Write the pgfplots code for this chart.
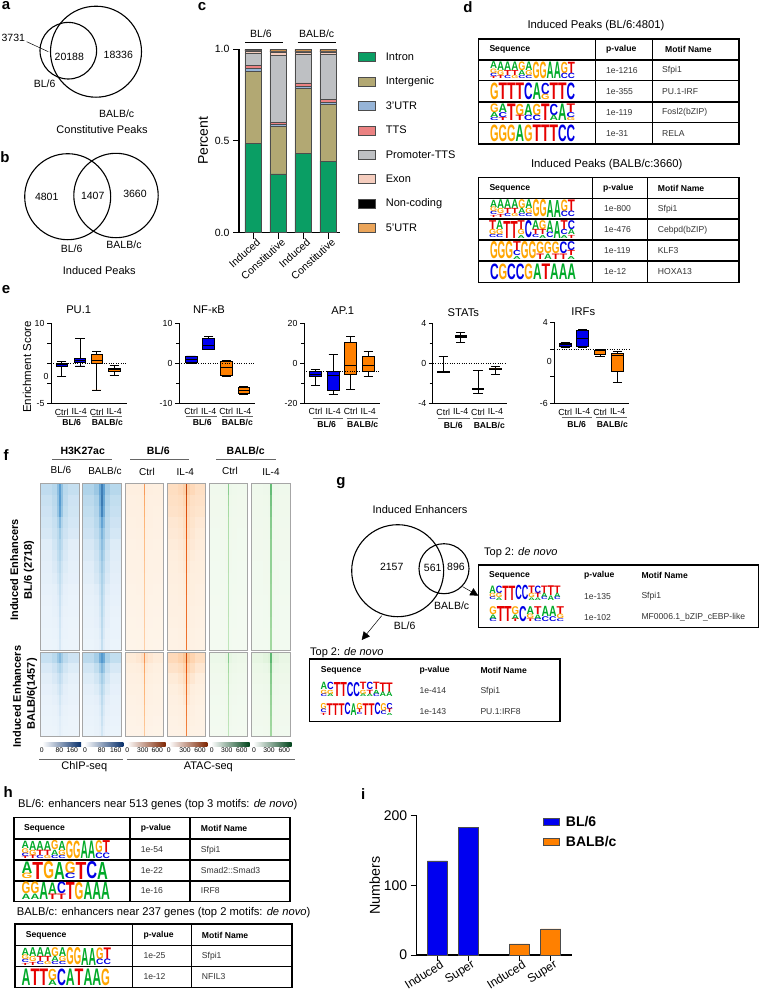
\documentclass[border=0pt]{standalone}
\usepackage{fontspec}
\setmainfont{Liberation Sans}
\usepackage{pgfplots}
\usepackage{pgfplotstable}
\usepgfplotslibrary{statistics}
\pgfplotsset{compat=1.18}
\usetikzlibrary{arrows.meta}

\definecolor{cIntron}{RGB}{10,158,100}
\definecolor{cInter}{RGB}{178,168,115}
\definecolor{cUTR3}{RGB}{150,180,215}
\definecolor{cTTS}{RGB}{235,130,130}
\definecolor{cProm}{RGB}{190,192,195}
\definecolor{cExon}{RGB}{245,205,190}
\definecolor{cUTR5}{RGB}{235,165,90}
\definecolor{bl}{RGB}{0,0,240}
\definecolor{ba}{RGB}{255,128,0}
\definecolor{logoA}{RGB}{0,170,40}
\definecolor{logoC}{RGB}{0,0,230}
\definecolor{logoG}{RGB}{255,165,0}
\definecolor{logoT}{RGB}{230,0,0}

\newcommand{\ft}[1]{\fontsize{#1}{#1}\selectfont}

% sequence logo: x left, x right, y top, y bottom, stacks (top letter first)
\ExplSyntaxOn
\fp_new:N \l_lg_acc_fp
\fp_new:N \l_lg_f_fp
\fp_new:N \l_lg_w_fp
\int_new:N \l_lg_i_int
\tl_new:N \l_lg_fr_tl
\tl_new:N \l_lg_x_tl
\tl_new:N \l_lg_y_tl
\tl_new:N \l_lg_c_tl
\str_new:N \l_lg_s_str
\clist_new:N \l_lg_list_clist
\NewDocumentCommand{\logo}{mmmmm}{
  \int_zero:N \l_lg_i_int
  \clist_set:Nx \l_lg_list_clist {#5}
  \fp_set:Nn \l_lg_w_fp { (#2-#1)/\clist_count:N \l_lg_list_clist }
  \clist_map_inline:Nn \l_lg_list_clist {
    \str_set:Nn \l_lg_s_str {##1}
    \tl_set:Nx \l_lg_fr_tl { \int_case:nn {\str_count:N \l_lg_s_str}
      { {1}{1} {2}{.68,.32} {3}{.52,.3,.18} {4}{.42,.27,.19,.12} } }
    \fp_zero:N \l_lg_acc_fp
    \int_step_inline:nn {\str_count:N \l_lg_s_str} {
      \fp_set:Nn \l_lg_f_fp {\clist_item:Nn \l_lg_fr_tl {####1}}
      \fp_add:Nn \l_lg_acc_fp {\l_lg_f_fp}
      \tl_set:Nx \l_lg_x_tl {\fp_eval:n {#1+\l_lg_i_int*\l_lg_w_fp}}
      \tl_set:Nx \l_lg_y_tl {\fp_eval:n {#3+\l_lg_acc_fp*(#4-#3)}}
      \tl_set:Nx \l_lg_c_tl {\str_item:Nn \l_lg_s_str {####1}}
      \dim_set:Nn \l_tmpa_dim {\fp_to_dim:n {\l_lg_w_fp}}
      \dim_set:Nn \l_tmpb_dim {\fp_to_dim:n {\l_lg_f_fp*(#4-#3)}}
      \node[anchor=south~west,inner~sep=0pt,outer~sep=0pt]
        at (\l_lg_x_tl,\l_lg_y_tl)
        {\resizebox{\l_tmpa_dim}{\l_tmpb_dim}{\bfseries\color{logo\l_lg_c_tl}\l_lg_c_tl}};
    }
    \int_incr:N \l_lg_i_int
  }
}
\ExplSyntaxOff
\newcommand{\sfpi}{AGCT,AGT,ATC,ATG,GAC,AGC,G,G,A,A,GC,TC}

% table frame: x0 x3 y0 yn, inner x list, inner y list
\newcommand{\tgrid}[6]{%
  \draw[line width=1.2pt] (#1,#3) rectangle (#2,#4);
  \foreach \xx in {#5} \draw[line width=1.2pt] (\xx,#3)--(\xx,#4);
  \foreach \yy in {#6} \draw[line width=1.2pt] (#1,\yy)--(#2,\yy);
}
\newcommand{\chead}[3]{\node[anchor=west,inner sep=0pt,font=\ft{8.6}\bfseries] at (#1,#2) {#3};}
\newcommand{\cell}[3]{\node[anchor=west,inner sep=0pt,font=\ft{8.6},text=black!80] at (#1,#2) {#3};}
\newcommand{\lab}[4]{\node[inner sep=0pt,font=\ft{#1}] at (#2,#3) {#4};}
\newcommand{\bfl}[4]{\node[inner sep=0pt,font=\ft{#1}\bfseries] at (#2,#3) {#4};}
\newcommand{\letter}[3]{\node[inner sep=0pt,font=\ft{15}\bfseries] at (#1,#2) {#3};}

% heatmap columns, x centre and line width in px
\newcommand{\hc}[4]{\addplot[mesh,forget plot,line width=#3pt,point meta=\thisrow{#1}]
  table[x expr=#2,y expr=\coordindex] {#4};}
\newcommand{\heat}[5]{% x, y top, height, colormap, table
  \begin{axis}[at={(#1pt,-#2pt)},anchor=north west,scale only axis,width=38.3pt,height=#3pt,
    xmin=0,xmax=38.3,y dir=reverse,enlarge y limits=false,ticks=none,
    colormap name=#4,point meta min=0,point meta max=100,axis on top,
    axis line style={black!35,line width=.9pt}]
    \hc{a}{5.5}{11.4}{#5}
    \hc{g}{32.8}{11.4}{#5}
    \hc{b}{13.5}{5.4}{#5}
    \hc{f}{24.8}{5.4}{#5}
    \hc{c}{17.15}{2.7}{#5}
    \hc{e}{21.15}{2.7}{#5}
    \hc{d}{19.15}{1.5}{#5}
  \end{axis}}

\pgfplotstableread{
a b c d e f g
38 42 55 70 52 40 36
24 30 45 62 45 28 22
30 36 50 72 52 36 28
20 26 42 58 40 24 20
26 30 36 48 34 30 24
16 22 30 40 30 20 16
18 24 34 38 32 22 16
14 18 26 36 24 18 14
16 20 26 30 24 18 14
12 14 20 30 20 14 12
12 14 18 26 18 12 10
10 12 16 26 16 12 10
10 12 14 24 14 10 9
9 10 12 22 12 10 8
8 9 11 22 11 9 8
7 8 10 20 10 8 7
}\hA
\pgfplotstableread{
a b c d e f g
46 52 66 80 70 50 42
30 38 56 74 60 36 28
36 42 60 82 62 42 32
24 32 48 68 54 30 24
30 36 46 58 46 36 26
20 26 38 52 42 26 18
22 28 40 48 42 26 18
16 22 32 46 34 22 16
18 24 32 40 34 22 16
14 18 26 40 28 18 14
13 16 24 36 26 16 12
12 14 22 36 24 14 12
11 14 20 34 22 14 10
10 12 18 32 20 12 10
9 11 16 30 18 11 9
8 10 14 28 16 10 8
}\hB
\pgfplotstableread{
a b c d e f g
14 14 16 52 16 14 13
13 13 14 44 14 13 13
12 13 14 42 14 12 12
12 12 13 40 13 12 11
11 12 12 38 12 12 11
11 11 12 36 12 11 11
10 11 11 36 11 11 10
10 10 11 34 11 10 10
10 10 11 32 11 10 10
9 10 10 32 10 10 9
9 9 10 30 10 9 9
9 9 10 30 10 9 9
8 9 9 30 9 9 8
8 8 9 30 9 8 8
8 8 9 28 9 8 8
7 8 8 28 8 8 7
}\hC
\pgfplotstableread{
a b c d e f g
24 26 30 85 30 26 22
20 22 26 78 26 22 20
22 22 24 74 24 20 20
18 20 22 72 22 20 18
18 18 22 70 22 18 16
16 18 20 68 20 18 16
16 16 18 66 18 16 15
14 16 18 66 18 16 14
14 15 16 64 16 14 14
13 14 16 64 16 14 13
13 14 15 62 15 14 12
12 13 14 62 14 13 12
12 12 14 62 14 12 11
11 12 13 62 13 12 11
10 11 12 60 12 11 10
10 11 12 60 12 11 10
}\hD
\pgfplotstableread{
a b c d e f g
9 10 11 52 11 10 9
8 9 10 44 10 9 8
8 9 10 42 10 9 8
8 8 9 40 9 8 8
7 8 9 38 9 8 7
7 8 8 38 8 8 7
7 7 8 36 8 7 7
6 7 8 36 8 7 6
6 7 7 36 7 7 6
6 7 7 34 7 7 6
6 6 7 34 7 6 6
5 6 7 34 7 6 5
5 6 6 34 6 6 5
5 6 6 32 6 6 5
5 5 6 32 6 5 5
5 5 6 32 6 5 5
}\hE
\pgfplotstableread{
a b c d e f g
10 11 12 60 12 11 10
9 10 11 54 11 10 9
9 10 11 52 11 10 9
9 9 10 50 10 9 9
8 9 10 48 10 9 8
8 9 9 48 9 9 8
8 8 9 46 9 8 8
7 8 9 46 9 8 7
7 8 8 46 8 8 7
7 8 8 44 8 8 7
7 7 8 44 8 7 7
6 7 8 44 8 7 6
6 7 7 44 7 7 6
6 7 7 42 7 7 6
6 6 7 42 7 6 6
6 6 7 42 7 6 6
}\hF
\pgfplotstableread{
a b c d e f g
34 40 52 62 50 38 30
22 28 38 44 36 26 20
18 22 28 34 28 20 16
14 18 22 28 22 16 12
12 14 18 24 18 14 11
10 12 14 22 14 12 10
9 10 12 18 12 10 8
8 9 11 16 11 9 8
7 8 10 16 10 8 7
}\bA
\pgfplotstableread{
a b c d e f g
40 50 66 76 68 48 36
26 34 50 60 52 32 24
20 26 36 46 38 24 18
16 20 28 38 30 20 14
14 16 22 34 24 16 12
11 13 18 30 20 13 11
10 12 16 28 18 12 10
9 11 14 24 16 10 9
8 10 13 22 14 10 8
}\bB
\pgfplotstableread{
a b c d e f g
18 20 24 54 24 20 18
15 16 18 46 18 16 14
13 14 15 42 15 14 12
12 12 14 40 14 12 11
11 11 12 38 12 11 10
10 11 12 36 12 11 10
9 10 11 34 11 10 9
9 9 10 32 10 9 8
8 8 9 30 9 8 8
}\bC
\pgfplotstableread{
a b c d e f g
26 30 36 82 36 28 24
22 24 28 72 28 24 20
18 20 24 68 24 20 16
15 17 20 64 20 16 14
13 15 18 62 18 14 12
12 13 16 60 16 13 11
11 12 14 58 14 12 10
10 11 13 56 13 11 10
9 10 12 56 12 10 9
}\bD
\pgfplotstableread{
a b c d e f g
14 15 18 54 18 15 13
11 12 14 44 14 12 11
9 10 12 40 12 10 9
8 9 10 38 10 9 8
7 8 9 36 9 8 7
7 7 8 34 8 7 7
6 7 8 34 8 7 6
6 6 7 32 7 6 6
5 6 7 32 7 6 5
}\bE
\pgfplotstableread{
a b c d e f g
18 20 22 64 22 20 17
14 16 18 54 18 16 14
12 13 14 50 14 13 12
10 11 12 48 12 11 10
9 10 11 46 11 10 9
8 9 10 44 10 9 8
8 8 9 44 9 8 8
7 8 9 42 9 8 7
7 7 8 42 8 7 7
}\bF

\pgfplotsset{
  /pgf/number format/assume math mode=true,
  colormap={hblue}{rgb255(0)=(245,250,254) rgb255(15)=(228,239,249) rgb255(40)=(172,210,233) rgb255(70)=(78,150,205) rgb255(100)=(8,48,107)},
  colormap={horange}{rgb255(0)=(255,250,244) rgb255(15)=(254,238,222) rgb255(40)=(253,180,118) rgb255(70)=(230,85,13) rgb255(100)=(127,39,4)},
  colormap={hgreen}{rgb255(0)=(248,252,246) rgb255(15)=(234,247,230) rgb255(40)=(170,220,165) rgb255(70)=(49,163,84) rgb255(100)=(0,68,27)},
  enr/.style={
    anchor=south west,scale only axis,height=80pt,
    axis x line=bottom,axis y line=left,axis line style={-,line width=1pt},
    xtick={1,2,3,4},xticklabels={Ctrl,IL-4,Ctrl,IL-4},
    x tick style={draw=none},xtick pos=bottom,
    tick align=outside,major tick length=4pt,minor tick length=3pt,
    y tick style={line width=.9pt,black},
    tick label style={font=\ft{8.8}},
    xticklabel style={yshift=2pt},
    yticklabel style={xshift=1pt},
    boxplot/draw direction=y,
    boxplot/box extend=.66,
    clip=false,
  },
}
% pos, low whisker, q1, median, q3, high whisker, colour
\newcommand{\bx}[7]{\addplot[forget plot,draw=black,line width=.8pt,fill=#7,
   boxplot prepared={draw position=#1,lower whisker=#2,lower quartile=#3,median=#4,upper quartile=#5,upper whisker=#6}]
   coordinates {};}

\begin{document}
\begin{tikzpicture}[x=1pt,y=-1pt]
\useasboundingbox (0,0) rectangle (759,994);

% a
\letter{6}{6}{a}
\draw[line width=1.1pt] (68.3,50.7) circle (28.3);
\draw[line width=1.1pt] (96,51.7) circle (45.5);
\draw[line width=.5pt] (26.7,41.7)--(48.3,51.7);
\lab{10.5}{13.3}{37.7}{3731}
\lab{10.5}{69.3}{56.7}{20188}
\lab{10.5}{118.3}{55.3}{18336}
\lab{10.5}{44.7}{84}{BL/6}
\lab{10.5}{116.7}{113.3}{BALB/c}
\lab{11}{102}{129.3}{Constitutive Peaks}

% b
\letter{5}{157}{b}
\draw[line width=1.1pt] (67.7,196.7) circle (43);
\draw[line width=1.1pt] (116,195.5) circle (42.2);
\lab{10.5}{46.7}{197.3}{4801}
\lab{10.5}{92.7}{196}{1407}
\lab{10.5}{135}{194}{3660}
\lab{10.5}{71.7}{248.3}{BL/6}
\lab{10.5}{124}{245}{BALB/c}
\lab{11}{99.3}{270.7}{Induced Peaks}

% c
\letter{202}{7}{c}
\begin{axis}[at={(239pt,-232.7pt)},anchor=south west,scale only axis,width=101pt,height=183.7pt,
  ybar stacked,bar width=16.5pt,
  xmin=-.56,xmax=3.48,ymin=0,ymax=1,
  axis x line=bottom,axis y line=left,axis line style={-,line width=1.4pt},
  xtick={0,1,2,3},xticklabels={Induced,Constitutive,Induced,Constitutive},
  ytick={0,.5,1},yticklabels={0.0,0.5,1.0},
  tick align=outside,major tick length=6pt,tick style={line width=1pt,black},
  tick label style={font=\ft{10.5}},
  xticklabel style={rotate=42,anchor=north east,inner sep=1pt,xshift=4pt},
  ylabel={Percent},ylabel style={font=\ft{14}},
  legend cell align=left,
  legend style={draw=none,fill=none,at={(1.178,.992)},anchor=north west,font=\ft{11},
    row sep=11.2pt,column sep=8pt,inner sep=0pt},
  legend image code/.code={\draw[#1,line width=.7pt] (0pt,-4.5pt) rectangle (17pt,4.5pt);},
  every axis plot/.append style={draw=black!70,line width=.5pt},
  clip=false]
\addplot[fill=cIntron] coordinates {(0,.485)(1,.32)(2,.43)(3,.39)};
\addplot[fill=cInter] coordinates {(0,.395)(1,.26)(2,.355)(3,.31)};
\addplot[fill=cUTR3] coordinates {(0,.015)(1,.008)(2,.01)(3,.01)};
\addplot[fill=cTTS] coordinates {(0,.015)(1,.012)(2,.02)(3,.015)};
\addplot[fill=cProm] coordinates {(0,.065)(1,.365)(2,.155)(3,.245)};
\addplot[fill=cExon] coordinates {(0,.015)(1,.02)(2,.015)(3,.015)};
\addplot[fill=black] coordinates {(0,.005)(1,.005)(2,.005)(3,.005)};
\addplot[fill=cUTR5] coordinates {(0,.005)(1,.01)(2,.01)(3,.01)};
\legend{Intron,Intergenic,3'UTR,TTS,Promoter-TTS,Exon,Non-coding,5'UTR}
\end{axis}
\lab{10.5}{261}{33.3}{BL/6}
\lab{10.5}{316.7}{33.3}{BALB/c}
\draw[line width=1.1pt] (245,42.3)--(283.3,42.3);
\draw[line width=1.1pt] (297.7,42.3)--(336,42.3);

% d
\letter{468}{7}{d}
\lab{11.3}{596}{26}{Induced Peaks (BL/6:4801)}
\tgrid{478.3}{739}{39}{144}{595.3,652.3}{60,80.7,102,122.7}
\chead{489.3}{49.5}{Sequence}\chead{606}{49.5}{p-value}\chead{665}{49.5}{Motif Name}
\logo{490}{575}{62}{78.5}{\sfpi}
\logo{490}{575}{83}{99.5}{G,T,T,T,C,A,CG,T,T,C}
\logo{490}{575}{104}{120.5}{GAC,ACT,T,GT,AC,GC,T,CA,A,TCG}
\logo{490}{575}{125}{141.5}{G,G,G,A,G,T,T,T,C,C}
\cell{606}{70.7}{1e-1216}\cell{662}{70.7}{Sfpi1}
\cell{606}{92}{1e-355}\cell{662}{92}{PU.1-IRF}
\cell{606}{112.7}{1e-119}\cell{662}{112.7}{Fosl2(bZIP)}
\cell{606}{133.7}{1e-31}\cell{662}{133.7}{RELA}
\lab{11.3}{606.7}{165}{Induced Peaks (BALB/c:3660)}
\tgrid{478.3}{739}{177.3}{282.3}{592.7,647.3}{198.3,219,240,261}
\chead{489.3}{188}{Sequence}\chead{603}{188}{p-value}\chead{657.7}{188}{Motif Name}
\logo{490}{575}{200}{217}{\sfpi}
\logo{489}{575}{221}{238}{TGC,AGC,T,T,TGA,C,ATC,GTA,AC,A,TCA,CAT}
\logo{490}{575}{242}{259}{G,G,G,TCA,G,G,GT,GA,GT,CT,CTA}
\logo{490}{576}{264}{279.5}{C,G,C,C,G,A,T,A,A,A}
\cell{604}{209}{1e-800}\cell{657.7}{209}{Sfpi1}
\cell{604}{230}{1e-476}\cell{657.7}{230}{Cebpd(bZIP)}
\cell{604}{251}{1e-119}\cell{657.7}{251}{KLF3}
\cell{604}{272}{1e-12}\cell{657.7}{272}{HOXA13}

% e
\letter{6}{289.3}{e}
\node[rotate=90,inner sep=0pt,font=\ft{11.5}] at (27,367) {Enrichment Score};
% PU.1
\begin{axis}[enr,at={(51pt,-403.3pt)},width=76pt,xmin=.39,xmax=4.73,ymin=-5,ymax=10,
  ytick={-5,-1.25,2.5,6.25,10},yticklabels={-5,,,,10},
  extra y ticks={0},extra y tick labels={0},extra y tick style={major tick length=0pt}]
\bx{1}{0}{2}{2.25}{2.5}{2.9}{bl}
\bx{2.05}{2}{2.7}{3.05}{3.4}{7.2}{bl}
\bx{3}{-2.5}{2.5}{3.1}{4.2}{4.7}{ba}
\bx{4}{.25}{1.06}{1.3}{1.6}{2.06}{ba}
\addplot[dotted,forget plot] coordinates {(.39,2.5)(4.73,2.5)};
\end{axis}
% NF-kB
\begin{axis}[enr,at={(179pt,-403pt)},width=76pt,xmin=.31,xmax=4.64,ymin=-10,ymax=10,
  ytick={-10,0,10},minor ytick={-5,5}]
\bx{1}{-.17}{.17}{.92}{1.6}{1.76}{bl}
\bx{2}{3.3}{3.5}{4.5}{6.1}{6.6}{bl}
\bx{3}{-3.3}{-3}{-1.1}{.4}{.67}{ba}
\bx{4}{-7.9}{-7.6}{-6.8}{-6.1}{-5.8}{ba}
\addplot[dotted,forget plot] coordinates {(.31,0)(4.64,0)};
\end{axis}
% AP.1
\begin{axis}[enr,at={(304pt,-403pt)},width=76pt,xmin=.34,xmax=4.67,ymin=-20,ymax=20,
  ytick={-20,0,20},minor ytick={-10,10}]
\bx{1}{-11.4}{-6.6}{-5.5}{-4.3}{-3.3}{bl}
\bx{2}{-15.9}{-13.9}{-6.3}{-4.1}{4.3}{bl}
\bx{3}{-13.2}{-5.6}{-1.3}{10.1}{13.2}{ba}
\bx{4}{-6.8}{-4}{-1.2}{3.5}{5.6}{ba}
\addplot[dotted,forget plot] coordinates {(.34,-4)(4.67,-4)};
\end{axis}
% STATs
\begin{axis}[enr,at={(432.7pt,-403.3pt)},width=74pt,xmin=.39,xmax=4.65,ymin=-4,ymax=4,
  ytick={-4,0,4},minor ytick={-2,2}]
\bx{1}{-.93}{-.89}{-.83}{-.76}{.66}{bl}
\bx{2}{2.05}{2.64}{2.7}{2.78}{3.07}{bl}
\bx{3}{-2.97}{-2.64}{-2.58}{-2.52}{-.73}{ba}
\bx{4}{-1.09}{-.6}{-.56}{-.5}{-.33}{ba}
\addplot[dotted,forget plot] coordinates {(.39,0)(4.65,0)};
\end{axis}
% IRFs
\begin{axis}[enr,at={(554.3pt,-403.3pt)},width=75pt,xmin=.38,xmax=4.67,ymin=-6,ymax=4,height=81.3pt,
  ytick={-6,-2.67,.67,4},yticklabels={-6,,,4},
  extra y ticks={-.8},extra y tick labels={0},extra y tick style={major tick length=0pt}]
\bx{1}{.89}{1.05}{1.25}{1.38}{1.54}{bl}
\bx{2}{.89}{1.05}{2.03}{2.93}{3.1}{bl}
\bx{3}{-.26}{.07}{.48}{.56}{.64}{ba}
\bx{4}{-3.42}{-2.1}{-.14}{.19}{.39}{ba}
\addplot[dotted,forget plot] coordinates {(.38,.67)(4.67,.67)};
\end{axis}
\lab{11.2}{78.7}{310}{PU.1}
\lab{11.2}{209}{310}{NF-κB}
\lab{11.2}{342.7}{311}{AP.1}
\lab{11.2}{463.3}{312.7}{STATs}
\lab{11.2}{583.3}{312}{IRFs}
\foreach \xa/\xb/\xc/\xd/\yy in {56.7/87.3/91.7/122.3/416.7, 186/217.3/221.7/253.3/416.7, 312.7/343.3/346.7/378.3/418.3, 438.3/470/472.7/504/418.3, 561.7/592.3/596/626.7/417.7}
  {\draw[black!60,line width=.8pt] (\xa,\yy)--(\xb,\yy);
   \draw[black!60,line width=.8pt] (\xc,\yy)--(\xd,\yy);}
\bfl{8.6}{71.7}{422.5}{BL/6}\bfl{8.6}{107.3}{422.5}{BALB/c}
\bfl{8.6}{202.3}{422.5}{BL/6}\bfl{8.6}{237.3}{422.5}{BALB/c}
\bfl{8.6}{326.7}{424}{BL/6}\bfl{8.6}{362.7}{424}{BALB/c}
\bfl{8.6}{453.3}{425}{BL/6}\bfl{8.6}{489.3}{425}{BALB/c}
\bfl{8.6}{576.7}{424}{BL/6}\bfl{8.6}{612.3}{424}{BALB/c}

% f
\letter{6}{455}{f}
\bfl{10.5}{82.7}{451}{H3K27ac}\bfl{10.5}{158.3}{451}{BL/6}\bfl{10.5}{245.7}{451}{BALB/c}
\draw[black!60,line width=.9pt] (52.3,459.3)--(111.7,459.3);
\draw[black!60,line width=.9pt] (130,459.3)--(189.3,459.3);
\draw[black!60,line width=.9pt] (216,459.3)--(275.7,459.3);
\lab{10}{61}{470}{BL/6}\lab{10}{105}{470.5}{BALB/c}\lab{10}{147}{471.7}{Ctrl}
\lab{10}{185.3}{471.7}{IL-4}\lab{10}{230}{470.5}{Ctrl}\lab{10}{271}{471.7}{IL-4}
\heat{40.7}{483.7}{166.6}{hblue}{\hA}
\heat{82.7}{483.7}{166.6}{hblue}{\hB}
\heat{125.3}{483.7}{166.6}{horange}{\hC}
\heat{167.3}{483.7}{166.6}{horange}{\hD}
\heat{209.3}{483.7}{166.6}{hgreen}{\hE}
\heat{251.7}{483.7}{166.6}{hgreen}{\hF}
\heat{40.7}{652.3}{84.4}{hblue}{\bA}
\heat{82.7}{652.3}{84.4}{hblue}{\bB}
\heat{125.3}{652.3}{84.4}{horange}{\bC}
\heat{167.3}{652.3}{84.4}{horange}{\bD}
\heat{209.3}{652.3}{84.4}{hgreen}{\bE}
\heat{251.7}{652.3}{84.4}{hgreen}{\bF}
\node[rotate=90,inner sep=0pt,font=\ft{11}\bfseries] at (14.3,570) {Induced Enhancers};
\node[rotate=90,inner sep=0pt,font=\ft{11}\bfseries] at (29,570) {BL/6 (2718)};
\node[rotate=90,inner sep=0pt,font=\ft{11}\bfseries] at (17,696.5) {Induced Enhancers};
\node[rotate=90,inner sep=0pt,font=\ft{11}\bfseries] at (32,694) {BALB/6(1457)};
\definecolor{cbB}{RGB}{66,146,198}\definecolor{cbB2}{RGB}{8,48,107}
\definecolor{cbO}{RGB}{253,141,60}\definecolor{cbO2}{RGB}{127,39,4}
\definecolor{cbG}{RGB}{116,196,118}\definecolor{cbG2}{RGB}{0,68,27}
\shade[left color=white,middle color=cbB,right color=cbB2] (42.3,742.3) rectangle (81,746.3);
\shade[left color=white,middle color=cbB,right color=cbB2] (84.3,742.3) rectangle (123.3,746.3);
\shade[left color=white,middle color=cbO,right color=cbO2] (126.7,742.3) rectangle (165.7,746.3);
\shade[left color=white,middle color=cbO,right color=cbO2] (168.7,742.3) rectangle (207.3,746.3);
\shade[left color=white,middle color=cbG,right color=cbG2] (211,742.3) rectangle (249.7,746.3);
\shade[left color=white,middle color=cbG,right color=cbG2] (253.3,742.3) rectangle (291.7,746.3);
\lab{6.8}{41.7}{750.5}{0}\lab{6.8}{59.3}{750.5}{80}\lab{6.8}{72.3}{750.5}{160}
\lab{6.8}{85}{750.5}{0}\lab{6.8}{101.7}{750.5}{80}\lab{6.8}{115.7}{750.5}{160}
\lab{6.8}{127.3}{750.5}{0}\lab{6.8}{142.7}{750.5}{300}\lab{6.8}{157.3}{750.5}{600}
\lab{6.8}{168.7}{750.5}{0}\lab{6.8}{185}{750.5}{300}\lab{6.8}{200}{750.5}{600}
\lab{6.8}{211.7}{750.5}{0}\lab{6.8}{226.7}{750.5}{300}\lab{6.8}{241.7}{750.5}{600}
\lab{6.8}{254}{750.5}{0}\lab{6.8}{269}{750.5}{300}\lab{6.8}{284.3}{750.5}{600}
\draw[black!60,line width=.9pt] (39.3,759)--(123.3,759);
\draw[black!60,line width=.9pt] (126.7,759)--(295,759);
\lab{11}{84.3}{766.7}{ChIP-seq}
\lab{11}{208.3}{766.7}{ATAC-seq}

% g
\letter{341}{483}{g}
\lab{11}{420}{510}{Induced Enhancers}
\draw[line width=1.1pt] (397.7,570.7) circle (46);
\draw[line width=1.1pt] (444,568.7) circle (25);
\lab{10.5}{391.7}{566.7}{2157}
\lab{10.5}{432.7}{567.5}{561}
\lab{10.5}{456}{567}{896}
\lab{10.5}{451.7}{605.7}{BALB/c}
\lab{10.5}{404.7}{626}{BL/6}
\draw[-{Triangle[length=8pt,width=8pt]},line width=.5pt] (462.7,586.7)--(478.3,595.7);
\draw[-{Triangle[length=8pt,width=8pt]},line width=.5pt] (381.7,615.7)--(361.7,640);
\node[anchor=west,inner sep=0pt,font=\ft{11}] at (484,553) {Top 2: \textit{de novo}};
\draw[line width=1.2pt] (478.3,565) rectangle (758.3,627.3);
\chead{489}{575}{Sequence}\chead{584}{575}{p-value}\chead{641.3}{575}{Motif Name}
\logo{489.3}{560.7}{585.7}{600}{AGC,CGA,T,T,C,C,TGA,CTA,TAC,TA,TAC}
\logo{489.3}{564}{606.7}{621.7}{GAC,T,T,GAT,C,AGT,TAC,AC,AC,TGC}
\cell{584}{596.3}{1e-135}\cell{641.3}{596.3}{Sfpi1}
\cell{584}{617.3}{1e-102}\cell{641.3}{617.3}{MF0006.1\_bZIP\_cEBP-like}
\node[anchor=west,inner sep=0pt,font=\ft{11}] at (310,652.3) {Top 2: \textit{de novo}};
\draw[line width=1.2pt] (309.3,659) rectangle (560,721.7);
\chead{320.7}{670}{Sequence}\chead{419.3}{670}{p-value}\chead{480.3}{670}{Motif Name}
\logo{320.7}{392.7}{682.7}{696.7}{AGC,CGA,T,T,C,C,TGA,CTA,TAC,TA,TA}
\logo{320.7}{392.7}{703.3}{715}{GCT,T,T,T,C,A,GTC,T,T,C,GC,CTA}
\cell{419.3}{691}{1e-414}\cell{480.3}{691}{Sfpi1}
\cell{419.3}{711.7}{1e-143}\cell{480.3}{711.7}{PU.1:IRF8}

% h
\letter{8.3}{791.7}{h}
\node[anchor=west,inner sep=0pt,font=\ft{11.2}] at (18,804.3) {BL/6: enhancers near 513 genes (top 3 motifs: \textit{de novo})};
\tgrid{14}{290}{817.7}{901.7}{130,190}{839,860,881}
\chead{24}{828.7}{Sequence}\chead{140.7}{828.7}{p-value}\chead{200.7}{828.7}{Motif Name}
\logo{21.7}{110}{841}{858.5}{\sfpi}
\logo{21.7}{108}{862}{879}{AG,T,G,A,GC,T,C,A}
\logo{21.7}{110}{882.5}{899.5}{GA,GA,A,AT,CT,T,G,A,A,A}
\cell{140.7}{850}{1e-54}\cell{200.7}{850}{Sfpi1}
\cell{140.7}{870.7}{1e-22}\cell{200.7}{870.7}{Smad2::Smad3}
\cell{140.7}{891}{1e-16}\cell{200.7}{891}{IRF8}
\node[anchor=west,inner sep=0pt,font=\ft{11.2}] at (16.7,912.3) {BALB/c: enhancers near 237 genes (top 2 motifs: \textit{de novo})};
\tgrid{15}{292}{924}{987.3}{132.7,191.7}{945.7,966.7}
\chead{25.7}{935}{Sequence}\chead{143.3}{935}{p-value}\chead{201.7}{935}{Motif Name}
\logo{21.7}{111}{948}{965}{\sfpi}
\logo{21.7}{110}{969}{985.5}{A,T,T,GA,C,A,T,A,A,G}
\cell{143.3}{956}{1e-25}\cell{201.7}{956}{Sfpi1}
\cell{143.3}{977}{1e-12}\cell{201.7}{977}{NFIL3}

% i
\letter{363.3}{794.3}{i}
\begin{axis}[at={(416.7pt,-955pt)},anchor=south west,scale only axis,width=155pt,height=139.3pt,
  ybar,bar width=20pt,bar shift=0pt,
  xmin=.335,xmax=5.335,ymin=0,ymax=200,
  axis x line=bottom,axis y line=left,axis line style={-,line width=1.2pt},
  xtick={1,2,3.65,4.66},xticklabels={Induced,Super,Induced,Super},
  ytick={0,100,200},
  tick align=outside,major tick length=6pt,tick style={line width=1pt,black},
  tick label style={font=\ft{14}},
  xticklabel style={font=\ft{12},rotate=32,anchor=north east,inner sep=0pt,xshift=3pt},
  ylabel={Numbers},ylabel style={font=\ft{14.3},yshift=-3pt},
  legend cell align=left,
  legend style={draw=none,fill=none,at={(.815,1.012)},anchor=north west,font=\ft{14}\bfseries,
    row sep=4pt,column sep=4pt,inner sep=0pt},
  legend image code/.code={\draw[#1,line width=.7pt] (0pt,-3.7pt) rectangle (16pt,3.7pt);},
  clip=false]
\addplot[fill=bl,draw=black!70,line width=.7pt] coordinates {(1,135)(2,183)};
\addplot[fill=ba,draw=black!70,line width=.7pt] coordinates {(3.65,16)(4.66,37.5)};
\legend{BL/6,BALB/c}
\end{axis}
\end{tikzpicture}
\end{document}
